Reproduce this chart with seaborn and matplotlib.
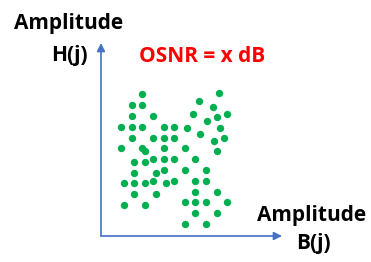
import matplotlib
matplotlib.use("Agg")
import matplotlib.pyplot as plt
import pandas as pd
import seaborn as sns

# constellation points, amplitude B(j) vs amplitude H(j) (arbitrary units)
b_vals = [41.3, 118.3, 98.3, 30.7, 41.3, 112.3, 30.7, 52.0, 92.3, 125.7,
          115.7, 105.7, 20.0, 30.7, 41.3, 62.7, 73.3, 85.7, 119.3, 99.0,
          30.7, 52.0, 62.7, 73.3, 122.7, 112.7, 20.0, 40.7, 62.7, 83.7,
          44.0, 116.3, 33.3, 44.0, 52.0, 62.7, 73.3, 94.3, 33.3, 54.7,
          62.7, 83.7, 105.0, 22.7, 33.3, 44.0, 52.0, 65.3, 73.3, 94.3,
          105.0, 33.3, 54.7, 94.3, 115.7, 22.7, 44.0, 83.7, 94.3, 105.0,
          126.0, 94.3, 115.7, 84.0, 105.0]
h_vals = [141.7, 142.7, 135.3, 131.0, 131.0, 129.0, 120.0, 120.0, 121.7, 122.3,
          118.7, 115.0, 109.3, 109.3, 109.3, 109.3, 109.3, 107.7, 108.3, 101.7,
          98.3, 98.3, 98.3, 98.3, 98.3, 94.7, 87.7, 87.7, 87.7, 87.7,
          85.0, 84.7, 74.0, 74.0, 76.7, 76.7, 76.7, 76.7, 63.3, 63.3,
          66.0, 66.0, 66.0, 52.7, 52.7, 52.7, 55.3, 52.7, 55.3, 55.3,
          55.3, 41.7, 41.7, 44.3, 44.3, 30.7, 30.7, 33.7, 33.7, 33.7,
          33.7, 22.7, 22.7, 11.7, 11.7]

title = "OSNR = x dB"

df = pd.DataFrame({"B": b_vals, "H": h_vals})

sns.set_style("white")
plt.rcParams["font.family"] = ["Open Sans", "DejaVu Sans"]

fig = plt.figure(figsize=(3.71, 2.62), dpi=100)
ax = fig.add_axes([0, 0, 1, 1])

sns.scatterplot(data=df, x="B", y="H", color="#00B050", s=28,
                linewidth=0, ax=ax, legend=False)

arrow = dict(arrowstyle="-|>", color="#4472C4", lw=1.2,
             mutation_scale=12, shrinkA=0, shrinkB=0)
ax.annotate("", xy=(181, 0), xytext=(0, 0), arrowprops=arrow)
ax.annotate("", xy=(0, 193), xytext=(0, 0), arrowprops=arrow)

txt = dict(ha="center", va="center", fontsize=15, fontweight="bold")
ax.text(-32, 212, "Amplitude", color="black", **txt)
ax.text(-32, 180, "H(j)", color="black", **txt)
ax.text(101, 180, title, color="#FF0000", **txt)
ax.text(211, 20, "Amplitude", color="black", **txt)
ax.text(212, -8, "B(j)", color="black", **txt)

ax.set_xlim(-101, 270)
ax.set_ylim(-26, 236)
ax.set_axis_off()

fig.savefig("out.png", dpi=100)
